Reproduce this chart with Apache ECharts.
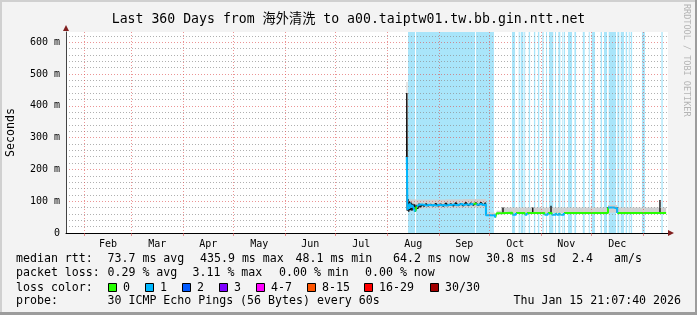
<!DOCTYPE html>
<html><head><meta charset="utf-8">
<script src="https://cdn.jsdelivr.net/npm/echarts@6/dist/echarts.min.js"></script>
<style>html,body{margin:0;padding:0;background:#f3f3f3}#c{width:697px;height:315px}</style>
</head><body><div id="c"></div>
<script>
// ---------- DATA ----------
const T_START = '2025-01-20 21:07:40';
const T_END   = '2026-01-15 21:07:40';
const monthStarts = ['2025-02-01','2025-03-01','2025-04-01','2025-05-01','2025-06-01','2025-07-01',
  '2025-08-01','2025-09-01','2025-10-01','2025-11-01','2025-12-01','2026-01-01'];
const monthLabels = ['Feb','Mar','Apr','May','Jun','Jul','Aug','Sep','Oct','Nov','Dec'];
const yMax = 632, yStep = 20, yMajor = 100;

// light-blue background bands [start, end]
const bandStart = ['2025-08-13 10:00','2025-08-18 05:00','2025-09-23 02:00','2025-10-14 14:00','2025-10-18 14:00',
  '2025-10-19 19:00','2025-10-21 22:00','2025-10-24 14:00','2025-10-27 17:00','2025-10-30 02:00','2025-11-01 17:00',
  '2025-11-03 22:00','2025-11-05 17:00','2025-11-09 07:00','2025-11-11 07:00','2025-11-13 17:00','2025-11-14 12:00',
  '2025-11-17 02:00','2025-11-20 22:00','2025-11-25 22:00','2025-11-29 12:00','2025-12-01 05:00','2025-12-06 14:00',
  '2025-12-08 14:00','2025-12-11 10:00','2025-12-16 14:00','2025-12-18 14:00','2025-12-21 14:00','2025-12-23 10:00',
  '2025-12-24 14:00','2025-12-31 07:00','2026-01-11 22:00'];
const bandEnd = ['2025-08-17 14:00','2025-09-22 12:00','2025-10-03 19:00','2025-10-16 10:00','2025-10-19 05:00',
  '2025-10-21 10:00','2025-10-22 12:00','2025-10-25 10:00','2025-10-28 12:00','2025-10-30 22:00','2025-11-02 12:00',
  '2025-11-04 12:00','2025-11-08 07:00','2025-11-09 22:00','2025-11-12 12:00','2025-11-14 02:00','2025-11-15 07:00',
  '2025-11-19 12:00','2025-11-21 22:00','2025-11-27 02:00','2025-11-30 02:00','2025-12-03 05:00','2025-12-07 10:00',
  '2025-12-10 10:00','2025-12-15 19:00','2025-12-17 19:00','2025-12-20 14:00','2025-12-22 10:00','2025-12-24 00:00',
  '2025-12-25 10:00','2026-01-02 02:00','2026-01-12 17:00'];

// smoke (spread of pings), ms — each step lasts until the next time
const smkT  = ['2025-08-12 11:00','2025-08-13 02:00','2025-08-15 00:00','2025-08-18 00:00','2025-08-22 00:00',
  '2025-09-05 00:00','2025-09-15 00:00','2025-09-29 00:00','2025-10-04 10:00','2025-10-05 10:00','2025-10-08 00:00',
  '2025-12-11 00:00','2025-12-16 12:00','2026-01-14 18:00'];
const smkLo = [80, 68, 72, 76, 78, 79, 80, 54, 48, 62, 63, 64, 63, 63];
const smkHi = [475, 108, 106, 105, 105, 106, 107, 64, 54, 70, 80, 88, 80, 80];

// dark smoke strokes, ms (null = gap)
const blkT = ['2025-08-12 15:00','2025-08-12 16:00','2025-08-12 23:00','2025-08-13 10:00','2025-08-13 20:00',
  '2025-08-14 06:00','2025-08-14 18:00','2025-08-15 06:00','2025-08-15 18:00','2025-08-16 06:00','2025-08-16 18:00',
  '2025-08-17 08:00','2025-08-17 20:00','2025-08-18 12:00','2025-08-19 06:00','2025-08-20 00:00','2025-08-20 18:00',
  '2025-08-21 18:00','2025-08-23 00:00','2025-08-24 06:00','2025-08-25 12:00','2025-08-27 00:00','2025-08-28 12:00',
  '2025-08-30 00:00','2025-08-31 12:00','2025-09-02 00:00','2025-09-03 12:00','2025-09-05 00:00','2025-09-06 12:00',
  '2025-09-08 00:00','2025-09-09 12:00','2025-09-11 00:00','2025-09-12 12:00','2025-09-14 00:00','2025-09-15 12:00',
  '2025-09-17 00:00','2025-09-18 12:00','2025-09-20 00:00','2025-09-21 12:00','2025-09-23 00:00','2025-09-24 12:00',
  '2025-09-26 00:00','2025-09-27 12:00','2025-09-28 18:00','2025-09-29 00:00','2025-09-29 00:00',
  '2025-10-09 05:00','2025-10-09 05:00','2025-10-09 05:00',
  '2025-10-27 00:00','2025-10-27 00:00','2025-10-27 00:00',
  '2025-11-06 22:00','2025-11-06 22:00','2025-11-06 22:00',
  '2025-12-11 00:00','2025-12-11 00:00','2025-12-11 00:00',
  '2025-12-16 14:00','2025-12-16 14:00','2025-12-16 14:00',
  '2026-01-11 02:00','2026-01-11 02:00'];
const blkV = [240, 440, 70, 107, 67, 100, 72, 96, 70, 92, 74, 90, 68, 88, 76, 92, 80, 90, 84, 92, 85, 90, 85, 93, 85,
  91, 84, 94, 86, 92, 85, 95, 86, 93, 85, 96, 86, 94, 87, 95, 86, 96, 87, 95, 58, null,
  63, 80, null, 63, 80, null, 62, 86, null, 63, 82, null, 80, 64, null, 63, 104];

// median rtt (ms) and loss-colour index of each step
const medT = ['2025-08-12 16:00','2025-08-13 02:00','2025-08-13 14:00','2025-08-14 02:00','2025-08-14 14:00',
  '2025-08-15 06:00','2025-08-16 00:00','2025-08-16 18:00','2025-08-17 14:00','2025-08-18 14:00','2025-08-19 12:00',
  '2025-08-20 12:00','2025-08-21 12:00','2025-08-23 00:00','2025-08-24 12:00','2025-08-26 00:00','2025-08-27 12:00',
  '2025-08-29 00:00','2025-08-30 12:00','2025-09-01 00:00','2025-09-02 12:00','2025-09-04 00:00','2025-09-05 12:00',
  '2025-09-07 00:00','2025-09-08 12:00','2025-09-10 00:00','2025-09-11 12:00','2025-09-13 00:00','2025-09-14 12:00',
  '2025-09-16 00:00','2025-09-17 12:00','2025-09-19 00:00','2025-09-20 12:00','2025-09-21 12:00','2025-09-23 06:00',
  '2025-09-24 12:00','2025-09-26 00:00','2025-09-27 12:00','2025-09-29 00:00','2025-10-04 10:00','2025-10-05 10:00',
  '2025-10-08 00:00','2025-10-14 19:00','2025-10-17 00:00','2025-10-22 05:00','2025-10-23 10:00','2025-11-03 00:00',
  '2025-11-05 00:00','2025-11-07 07:00','2025-11-09 17:00','2025-11-10 07:00','2025-11-11 17:00','2025-11-12 12:00',
  '2025-11-14 17:00','2025-12-11 00:00','2025-12-14 12:00','2025-12-16 12:00','2026-01-14 18:00'];
const medV = [239, 72, 90, 76, 93, 80, 88, 78, 67, 84, 90, 84, 89, 86, 89, 87, 88, 86, 89, 87, 88, 86, 89, 88, 90,
  87, 89, 91, 88, 90, 89, 91, 89, 92, 89, 91, 88, 90, 56, 49, 62, 64, 57, 63, 57, 63, 57, 63, 57, 63, 57, 63, 57,
  63, 80, 77, 63, 64];
const medLoss = [1,1,1,1,1,1,1,1,0,1,1,1,1,1,1,1,1,1,1,1,1,1,1,1,1,1,1,1,1,1,1,1,1,0,1,1,1,1,1,0,0,0,1,0,1,0,1,0,
  1,0,1,0,1,0,1,1,0,0];

const lossColors = ['#26ff00','#00b8ff','#0059ff','#7e00ff','#ff00ff','#ff5500','#ff0000','#a10000'];
const lossLabels = ['0','1','2','3','4-7','8-15','16-29','30/30'];

const statRtt  = ['median rtt:','73.7 ms avg','435.9 ms max','48.1 ms min','64.2 ms now','30.8 ms sd','2.4','am/s'];
const statLoss = ['packet loss:','0.29 % avg','3.11 % max','0.00 % min','0.00 % now'];
const probeText = ['probe:','30 ICMP Echo Pings (56 Bytes) every 60s','Thu Jan 15 21:07:40 2026'];
const titleText = 'Last 360 Days from 海外清洗 to a00.taiptw01.tw.bb.gin.ntt.net';

// ---------- LAYOUT / STYLE ----------
const MONO = '"DejaVu Sans Mono", "Noto Sans CJK SC", monospace';
const GRID_C = 'rgba(143,143,143,0.7)';
const MGRID_C = 'rgba(222,79,79,0.6)';
const G = {left: 66, top: 32, right: 29, bottom: 82};
const BAND_C = '#a9e5fa';

function ts(s) { return new Date(s.length === 10 ? s + 'T00:00' : s.replace(' ', 'T')).getTime(); }

const tickVals = monthStarts.map(ts);
const labelVals = monthLabels.map((m, i) => (tickVals[i] + tickVals[i + 1]) / 2);

const nY = Math.floor(yMax / yStep) + 1;
const splitColors = [];
for (let i = 0; i < nY; i++) splitColors.push((i * yStep) % yMajor === 0 ? MGRID_C : GRID_C);
if ((nY - 1) * yStep !== yMax) splitColors.push('rgba(0,0,0,0)');

// median drawn as step runs, one series per loss colour
function medSeries(c) {
  const d = [];
  for (let i = 0; i < medT.length - 1; i++) {
    if (medLoss[i] !== c) continue;
    if (i === 0 || medLoss[i - 1] !== c) {
      if (d.length) d.push([ts(medT[i]), null]);
      d.push([ts(medT[i]), medV[i]]);
    }
    d.push([ts(medT[i + 1]), medV[i]]);
    d.push([ts(medT[i + 1]), medV[i + 1]]);
  }
  return {type: 'line', data: d, symbol: 'none', silent: true, z: 5,
    lineStyle: {color: lossColors[c], width: 2}};
}

const series = [
  {type: 'line', symbol: 'none', silent: true, z: 1,
    data: smkT.map((t, i) => [ts(t), smkLo[i]]), lineStyle: {width: 0, opacity: 0},
    markArea: {silent: true, itemStyle: {color: BAND_C, opacity: 1},
      data: bandStart.map((s, i) => [{xAxis: ts(s)}, {xAxis: ts(bandEnd[i])}])}},
  {type: 'custom', silent: true, z: 3,
    data: smkT.slice(0, -1).map((t, i) => [ts(t), ts(smkT[i + 1]), smkLo[i], smkHi[i]]),
    encode: {x: [0, 1], y: [2, 3]},
    renderItem: (params, api) => {
      const a = api.coord([api.value(0), api.value(3)]);
      const b = api.coord([api.value(1), api.value(2)]);
      return {type: 'rect', shape: {x: a[0], y: a[1], width: b[0] - a[0], height: b[1] - a[1]},
        style: {fill: '#d0d0d0'}};
    }},
  {type: 'line', symbol: 'none', silent: true, z: 4,
    data: blkT.map((t, i) => [ts(t), blkV[i]]), lineStyle: {color: '#111', width: 1.4}},
  medSeries(0), medSeries(1)
];

// legend / decoration graphics
const graphics = [];
const txt = (x, y, text, align, size, fill) => ({type: 'text', x, y, silent: true, z: 100,
  style: {text, fill: fill || '#000', font: (size || 11.6) + 'px ' + MONO, textAlign: align || 'left',
    textVerticalAlign: 'middle', verticalAlign: 'middle'}});
const rttX = [16, 107.5, 200, 295.5, 393, 486, 572, 614];
statRtt.forEach((s, i) => graphics.push(txt(rttX[i], 259, s)));
const lossX = [16, 107.5, 192.5, 279, 365];
statLoss.forEach((s, i) => graphics.push(txt(lossX[i], 273, s)));
graphics.push(txt(16, 287.5, 'loss color:'));
const boxX = [108, 145, 182, 219, 256, 307, 364, 430];
lossLabels.forEach((l, i) => {
  graphics.push({type: 'rect', silent: true, z: 100, shape: {x: boxX[i] + 0.5, y: 283.5, width: 8, height: 8},
    style: {fill: lossColors[i], stroke: '#000', lineWidth: 1}});
  graphics.push(txt(boxX[i] + 15, 287.5, l));
});
graphics.push(txt(16, 301, probeText[0]));
graphics.push(txt(107.5, 301, probeText[1]));
graphics.push(txt(681, 301, probeText[2], 'right'));
// watermark
graphics.push({type: 'text', x: 686, y: 4, rotation: -Math.PI / 2, silent: true, z: 100,
  style: {text: 'RRDTOOL / TOBI OETIKER', fill: '#b4b4b4', font: '8.5px ' + MONO, textAlign: 'left', textVerticalAlign: 'middle', verticalAlign: 'middle'}});
// frame shades
graphics.push({type: 'rect', silent: true, z: 90, shape: {x: 0, y: 0, width: 697, height: 2}, style: {fill: '#d0d0d0'}});
graphics.push({type: 'rect', silent: true, z: 90, shape: {x: 0, y: 0, width: 2, height: 315}, style: {fill: '#d0d0d0'}});
graphics.push({type: 'rect', silent: true, z: 91, shape: {x: 0, y: 312, width: 697, height: 3}, style: {fill: '#9c9c9c'}});
graphics.push({type: 'rect', silent: true, z: 91, shape: {x: 695, y: 0, width: 2, height: 315}, style: {fill: '#9c9c9c'}});
// axis arrows
const pR = 697 - G.right, pB = 315 - G.bottom;
graphics.push({type: 'polygon', silent: true, z: 100, shape: {points: [[pR, pB - 3], [pR + 6, pB], [pR, pB + 3]]}, style: {fill: '#801f1f'}});
graphics.push({type: 'polygon', silent: true, z: 100, shape: {points: [[G.left - 3, G.top - 1], [G.left, G.top - 7], [G.left + 3, G.top - 1]]}, style: {fill: '#801f1f'}});

const chart = echarts.init(document.getElementById('c'), null, {renderer: 'canvas'});
chart.setOption({
  backgroundColor: '#f3f3f3',
  animation: false,
  title: {text: titleText, left: 'center', top: 8,
    textStyle: {fontFamily: MONO, fontSize: 13.2, fontWeight: 'normal', color: '#000'}},
  grid: {left: G.left, top: G.top, right: G.right, bottom: G.bottom, show: true, backgroundColor: '#fff',
    borderWidth: 0, containLabel: false, outerBoundsMode: 'none'},
  xAxis: {type: 'value', min: ts(T_START), max: ts(T_END), z: 10,
    axisLine: {show: true, lineStyle: {color: '#000', width: 1}},
    axisTick: {show: true, customValues: tickVals, length: 3, lineStyle: {color: MGRID_C}},
    axisLabel: {customValues: labelVals, color: '#000', fontFamily: MONO, fontSize: 10, margin: 6,
      formatter: (v) => { let b = 0; labelVals.forEach((lv, i) => { if (Math.abs(lv - v) < Math.abs(labelVals[b] - v)) b = i; }); return monthLabels[b]; }},
    splitLine: {show: true, lineStyle: {color: MGRID_C, type: [1, 2], width: 1}}},
  yAxis: {type: 'value', min: 0, max: yMax, interval: yStep, z: 10,
    name: 'Seconds', nameLocation: 'middle', nameGap: 49, nameRotate: 90,
    nameTextStyle: {fontFamily: MONO, fontSize: 11.6, color: '#000'},
    axisLine: {show: true, lineStyle: {color: '#444', width: 1}},
    axisTick: {show: false},
    axisLabel: {color: '#000', fontFamily: MONO, fontSize: 10, margin: 6,
      formatter: (v) => v === 0 ? '0' : (v % yMajor === 0 ? v + ' m' : '')},
    splitLine: {show: true, lineStyle: {color: splitColors, type: [1, 2], width: 1}}},
  series,
  graphic: graphics
});
</script></body></html>
